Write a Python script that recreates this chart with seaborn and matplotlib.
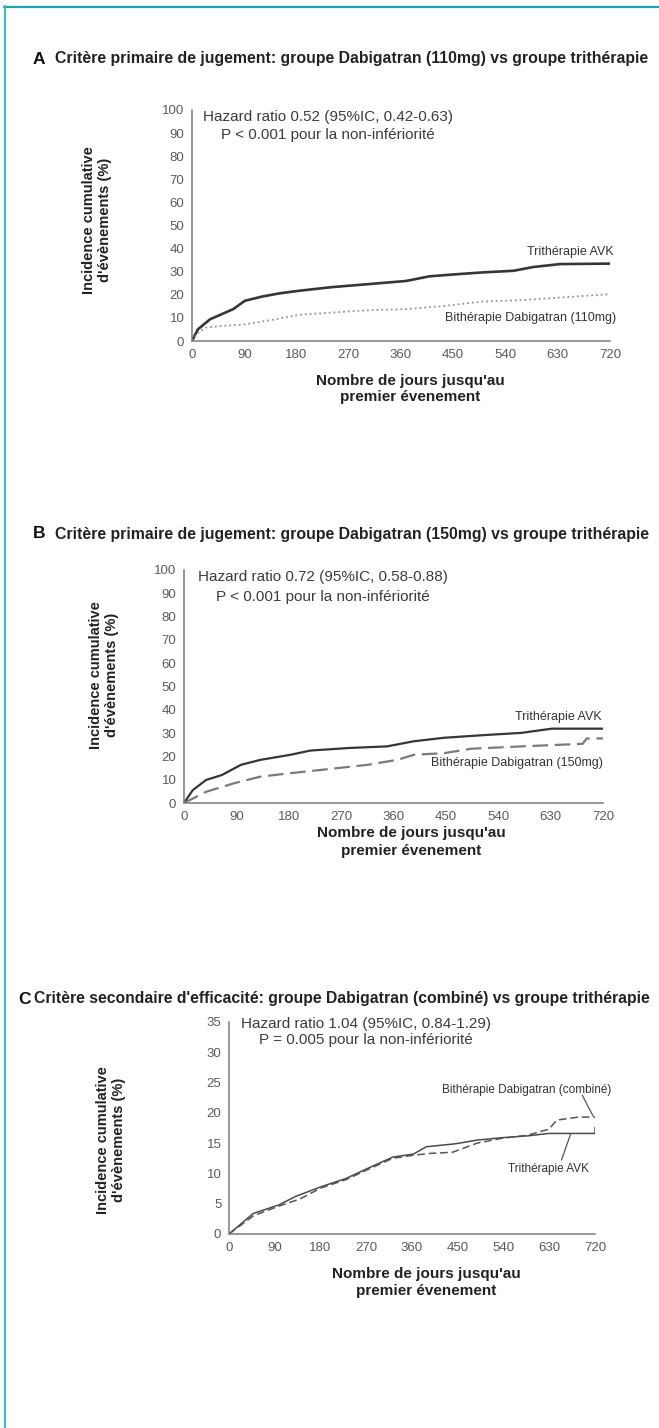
import numpy as np
import pandas as pd
import matplotlib
matplotlib.use("Agg")
import matplotlib.pyplot as plt
from matplotlib.lines import Line2D
import seaborn as sns

# Donnees (jours, incidence cumulative %)
A_days = [0, 10, 31, 51, 71, 91, 120, 150, 183, 240, 303, 369, 409, 450, 501, 554, 587, 634, 720]
A_avk = [0, 5, 9.4, 11.6, 13.8, 17.4, 19.2, 20.6, 21.7, 23.3, 24.6, 26, 28, 28.8, 29.7, 30.4, 32, 33.3, 33.5]
A_dab_days = [0, 10, 24, 51, 91, 144, 183, 270, 303, 369, 435, 501, 568, 634, 720]
A_dab = [0, 3.5, 5.8, 6.5, 7.2, 9.4, 11.3, 12.8, 13.3, 13.8, 15.2, 17.1, 17.7, 18.8, 20.3]

B_days = [0, 15, 38, 65, 98, 131, 183, 217, 283, 349, 395, 447, 513, 580, 632, 720]
B_avk = [0, 5.5, 9.9, 12, 16.4, 18.5, 20.7, 22.5, 23.6, 24.3, 26.5, 28, 29.1, 30.1, 31.9, 31.9]
B_dab_days = [0, 38, 85, 131, 183, 250, 316, 368, 395, 447, 494, 580, 685, 692, 720]
B_dab = [0, 4.8, 8.4, 11.3, 12.8, 14.6, 16.4, 18.6, 20.7, 21.4, 23.3, 24.3, 25.4, 27.7, 27.7]

C_days = [0, 48, 98, 131, 181, 231, 272, 322, 363, 388, 446, 488, 537, 587, 629, 720, 720]
C_avk = [0, 3.4, 4.8, 6.2, 7.8, 9.2, 10.8, 12.7, 13.2, 14.4, 14.9, 15.5, 15.9, 16.2, 16.6, 16.6, 17.6]
C_dab_days = [0, 48, 98, 140, 181, 231, 272, 322, 363, 395, 440, 488, 537, 587, 629, 645, 687, 720]
C_dab = [0, 3.0, 4.6, 5.8, 7.6, 9.0, 10.6, 12.5, 13.0, 13.3, 13.5, 15.0, 15.8, 16.3, 17.3, 18.8, 19.3, 19.3]

x_ticks = [0, 90, 180, 270, 360, 450, 540, 630, 720]

titles = [
    "Critère primaire de jugement: groupe Dabigatran (110mg) vs groupe trithérapie",
    "Critère primaire de jugement: groupe Dabigatran (150mg) vs groupe trithérapie",
    "Critère secondaire d'efficacité: groupe Dabigatran (combiné) vs groupe trithérapie",
]
hazard = [
    ("Hazard ratio 0.52 (95%IC, 0.42-0.63)", "P < 0.001 pour la non-infériorité"),
    ("Hazard ratio 0.72 (95%IC, 0.58-0.88)", "P < 0.001 pour la non-infériorité"),
    ("Hazard ratio 1.04 (95%IC, 0.84-1.29)", "P = 0.005 pour la non-infériorité"),
]
ylab = "Incidence cumulative\nd'évènements (%)"
xlab1 = "Nombre de jours jusqu'au"
xlab2 = "premier évenement"

sns.set_theme(style="white")
plt.rcParams['font.family'] = ['Liberation Sans', 'DejaVu Sans']

W, H = 659, 1428
fig = plt.figure(figsize=(W / 100, H / 100), dpi=100)

def fx(px):
    return px / W

def fy(py):
    return 1 - py / H

def make_ax(left, right, top, bottom):
    return fig.add_axes([fx(left), fy(bottom), fx(right) - fx(left), (bottom - top) / H])

narrow = ['Liberation Sans Narrow', 'Liberation Sans', 'DejaVu Sans']
axis_col = '#7a7a7a'
tick_col = '#5a5a5a'

def style_ax(ax, ymax, ystep):
    ax.set_xlim(0, 720)
    ax.set_ylim(0, ymax)
    ax.set_xticks(x_ticks)
    ax.set_yticks(np.arange(0, ymax + 1, ystep))
    for s in ['top', 'right']:
        ax.spines[s].set_visible(False)
    for s in ['left', 'bottom']:
        ax.spines[s].set_color(axis_col)
        ax.spines[s].set_linewidth(1.1)
    ax.tick_params(direction='out', length=4, width=1, color=axis_col,
                   labelcolor=tick_col, labelsize=9.5, pad=1.5)
    ax.set_xlabel('')
    ax.set_ylabel('')
    leg = ax.get_legend()
    if leg:
        leg.remove()

def frame_text(letter, title, ly, lx, tx, size):
    fig.text(fx(lx), fy(ly), letter, fontsize=12.5, fontweight='bold', color='#111',
             va='center', ha='left')
    fig.text(fx(tx), fy(ly), title, fontsize=size, fontweight='bold', color='#222',
             va='center', ha='left', family=narrow)

def labels(ycx, ycy, xcx, xy1, xy2):
    fig.text(fx(ycx), fy(ycy), ylab, rotation=90, fontsize=10.5, fontweight='bold',
             color='#222', va='center', ha='center', family=narrow, linespacing=1.1)
    fig.text(fx(xcx), fy(xy1), xlab1, fontsize=11, fontweight='bold', color='#222',
             va='center', ha='center', family=narrow)
    fig.text(fx(xcx), fy(xy2), xlab2, fontsize=11, fontweight='bold', color='#222',
             va='center', ha='center', family=narrow)

def hr_text(ax, xc, y1, y2, lines):
    ax.text(xc, y1, lines[0], fontsize=11, color='#3c3c3c', ha='center', va='center')
    ax.text(xc, y2, lines[1], fontsize=11, color='#3c3c3c', ha='center', va='center')

# ---------- Panel A ----------
axA = make_ax(192, 610, 110, 341)
dfA1 = pd.DataFrame({'jours': A_days, 'inc': A_avk})
dfA2 = pd.DataFrame({'jours': A_dab_days, 'inc': A_dab})
sns.lineplot(data=dfA1, x='jours', y='inc', ax=axA, color='#363636', lw=1.9,
             estimator=None, sort=False)
sns.lineplot(data=dfA2, x='jours', y='inc', ax=axA, color='#959595', lw=1.3,
             estimator=None, sort=False, linestyle=':')
style_ax(axA, 100, 10)
hr_text(axA, 234, 97, 89, hazard[0])
axA.text(726, 38.4, "Trithérapie AVK", fontsize=9, color='#333', ha='right', va='center',
         family=narrow, clip_on=False)
axA.text(730, 10.1, "Bithérapie Dabigatran (110mg)", fontsize=9, color='#333', ha='right',
         va='center', family=narrow, clip_on=False)
frame_text("A", titles[0], 59, 33, 55, 11.4)
labels(97, 220, 410, 381, 397)

# ---------- Panel B ----------
axB = make_ax(184, 603, 570, 803)
dfB1 = pd.DataFrame({'jours': B_days, 'inc': B_avk})
dfB2 = pd.DataFrame({'jours': B_dab_days, 'inc': B_dab})
sns.lineplot(data=dfB1, x='jours', y='inc', ax=axB, color='#363636', lw=1.6,
             estimator=None, sort=False)
sns.lineplot(data=dfB2, x='jours', y='inc', ax=axB, color='#7a7a7a', lw=1.6,
             estimator=None, sort=False)
axB.lines[-1].set_dashes([7, 3])
style_ax(axB, 100, 10)
hr_text(axB, 238, 96.8, 88.4, hazard[1])
axB.text(718, 37, "Trithérapie AVK", fontsize=9, color='#333', ha='right', va='center',
         family=narrow, clip_on=False)
axB.text(720, 17.1, "Bithérapie Dabigatran (150mg)", fontsize=9, color='#333', ha='right',
         va='center', family=narrow, clip_on=False)
frame_text("B", titles[1], 534, 33, 55, 11.4)
labels(104, 675, 411, 833, 851)

# ---------- Panel C ----------
axC = make_ax(229, 595, 1022, 1234)
dfC1 = pd.DataFrame({'jours': C_days, 'inc': C_avk})
dfC2 = pd.DataFrame({'jours': C_dab_days, 'inc': C_dab})
sns.lineplot(data=dfC1, x='jours', y='inc', ax=axC, color='#4a4a4a', lw=1.1,
             estimator=None, sort=False)
sns.lineplot(data=dfC2, x='jours', y='inc', ax=axC, color='#555555', lw=1.1,
             estimator=None, sort=False)
axC.lines[-1].set_dashes([5, 2.5])
style_ax(axC, 35, 5)
hr_text(axC, 270, 34.6, 32, hazard[2])
axC.text(753, 23.7, "Bithérapie Dabigatran (combiné)", fontsize=8.5, color='#333', ha='right',
         va='center', family=narrow, clip_on=False)
axC.plot([695, 716], [22.9, 19.5], color='#555', lw=0.9, clip_on=False)
axC.text(708, 10.7, "Trithérapie AVK", fontsize=8.5, color='#333', ha='right', va='center',
         family=narrow, clip_on=False)
axC.plot([654, 672], [12.2, 16.5], color='#555', lw=0.9, clip_on=False)
frame_text("C", titles[2], 999, 18, 34, 11.3)
labels(111, 1140, 426, 1274, 1291)

# cadre turquoise
fig.add_artist(Line2D([fx(4), 1], [fy(6.5), fy(6.5)], color='#1aa3ad', lw=1.6))
fig.add_artist(Line2D([fx(4.5), fx(4.5)], [fy(6), 0], color='#45b8c2', lw=1.6))

fig.savefig("out.png", dpi=100)
